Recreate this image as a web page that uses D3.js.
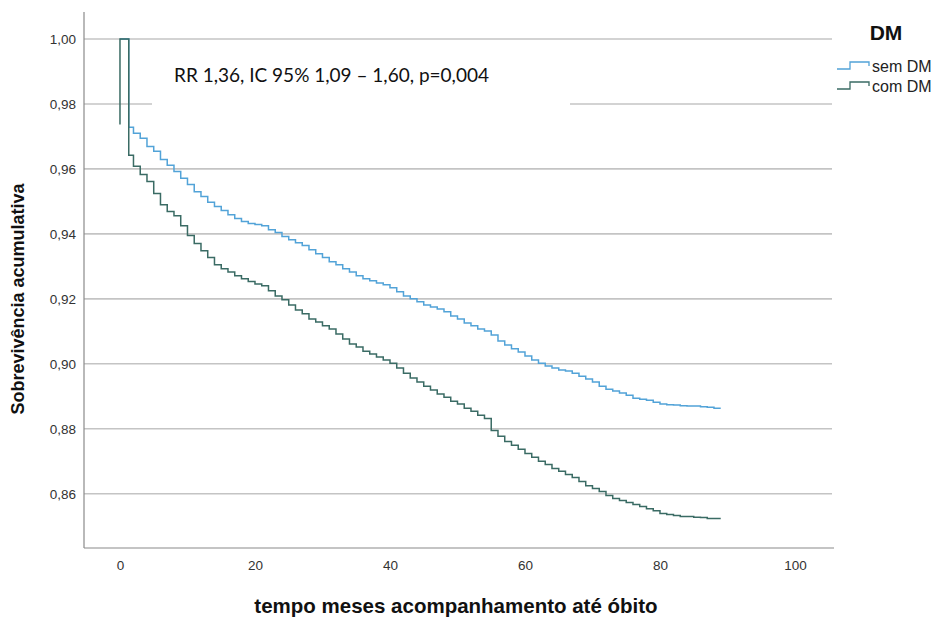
<!DOCTYPE html>
<html><head><meta charset="utf-8">
<script src="https://cdn.jsdelivr.net/npm/d3@7"></script>
<style>body{margin:0;background:#fff;}svg{display:block;}</style>
</head><body>
<svg id="c" width="940" height="618"></svg>
<script>
const times = [0, 1.3].concat(d3.range(2, 90));
const semDM = [1.0,
 .9728,.9710,.9694,.9669,.9654,.9629,.9611,.9592,.9571,.9552,
 .9530,.9515,.9497,.9484,.9472,.9459,.9447,.9438,.9432,.9429,
 .9425,.9413,.9404,.9392,.9382,.9373,.9364,.9351,.9339,.9327,
 .9314,.9305,.9293,.9283,.9271,.9262,.9256,.9249,.9243,.9234,
 .9222,.9209,.9200,.9191,.9181,.9175,.9169,.9160,.9147,.9138,
 .9126,.9117,.9107,.9101,.9089,.9070,.9058,.9046,.9036,.9024,
 .9012,.9002,.8993,.8987,.8981,.8978,.8971,.8962,.8953,.8944,
 .8931,.8922,.8916,.8910,.8903,.8894,.8891,.8888,.8882,.8876,
 .8874,.8873,.8871,.8870,.8870,.8868,.8866,.8863,.8863];
const comDM = [1.0,
 .9642,.9608,.9583,.9561,.9524,.9490,.9469,.9456,.9425,.9395,
 .9370,.9348,.9327,.9305,.9293,.9283,.9271,.9262,.9253,.9246,
 .9240,.9225,.9209,.9197,.9181,.9166,.9154,.9138,.9129,.9117,
 .9107,.9092,.9076,.9061,.9052,.9039,.9030,.9021,.9012,.9002,
 .8987,.8971,.8956,.8944,.8931,.8919,.8907,.8897,.8885,.8876,
 .8863,.8854,.8842,.8832,.8795,.8777,.8761,.8749,.8737,.8724,
 .8712,.8700,.8690,.8678,.8669,.8659,.8650,.8638,.8625,.8616,
 .8607,.8595,.8585,.8579,.8573,.8567,.8561,.8554,.8548,.8539,
 .8536,.8533,.8530,.8530,.8528,.8527,.8524,.8524,.8524];
const comDMStart = 0.9737;
const xTicks = [0, 20, 40, 60, 80, 100];
const yTicks = [1.00, 0.98, 0.96, 0.94, 0.92, 0.90, 0.88, 0.86];
const seriesNames = ["sem DM", "com DM"];
const seriesColors = ["#52a3d8", "#3a6b64"];
const annotation = "RR 1,36, IC 95% 1,09 \u2013 1,60, p=0,004";

const svg = d3.select("#c");
const x = d3.scaleLinear().domain([-5.33, 105.78]).range([84, 834]);
const y = d3.scaleLinear().domain([0.8433, 1.0083]).range([548, 12]);
const fmt = v => d3.format(".2f")(v).replace(".", ",");
const FONT = "Liberation Sans, Arial, sans-serif";

// gridlines
svg.append("g").selectAll("line").data(yTicks).join("line")
  .attr("x1", 84).attr("x2", 832)
  .attr("y1", d => y(d)).attr("y2", d => y(d))
  .attr("stroke", "#c4c4c4").attr("stroke-width", 1.6);

// y axis
const gy = svg.append("g").attr("transform", "translate(84,0)")
  .call(d3.axisLeft(y).tickValues(yTicks).tickFormat(fmt).tickSize(0).tickPadding(8));
gy.select(".domain").remove();
gy.selectAll("text").attr("font-family", FONT).attr("font-size", 13.5).attr("fill", "#333");
// x axis
const gx = svg.append("g").attr("transform", "translate(0,548)")
  .call(d3.axisBottom(x).tickValues(xTicks).tickFormat(d3.format("d")).tickSize(0).tickPadding(12));
gx.select(".domain").remove();
gx.selectAll("text").attr("font-family", FONT).attr("font-size", 13.5).attr("fill", "#333");

svg.append("line").attr("x1", 84).attr("x2", 84).attr("y1", 12).attr("y2", 548)
  .attr("stroke", "#8a8a8a").attr("stroke-width", 1.2);
svg.append("line").attr("x1", 84).attr("x2", 834).attr("y1", 548).attr("y2", 548)
  .attr("stroke", "#8a8a8a").attr("stroke-width", 1.2);

// annotation box
svg.append("rect").attr("x", 152).attr("y", 50).attr("width", 418).attr("height", 60).attr("fill", "#fff");
svg.append("text").attr("x", 174).attr("y", 82)
  .attr("font-family", "Lato, Open Sans, sans-serif").attr("font-size", 19).attr("fill", "#111")
  .text(annotation);

// curves
const line = d3.line().x(d => x(d[0])).y(d => y(d[1])).curve(d3.curveStepAfter);
const semPts = times.map((t, i) => [t, semDM[i]]);
const comPts = [[0, comDMStart]].concat(times.map((t, i) => [t, comDM[i]]));
svg.append("path").attr("d", line(semPts)).attr("fill", "none")
  .attr("stroke", seriesColors[0]).attr("stroke-width", 1.5);
svg.append("path").attr("d", d3.line().x(d => x(d[0])).y(d => y(d[1]))(comPts.slice(0, 2)) + line(comPts.slice(1)).replace("M", "L"))
  .attr("fill", "none").attr("stroke", seriesColors[1]).attr("stroke-width", 1.5);

// axis titles
svg.append("text").attr("transform", "translate(24,299) rotate(-90)").attr("text-anchor", "middle")
  .attr("font-family", FONT).attr("font-weight", "bold")
  .attr("font-size", 18).attr("fill", "#111").text("Sobrevivência acumulativa");
svg.append("text").attr("x", 456).attr("y", 613).attr("text-anchor", "middle")
  .attr("font-family", FONT).attr("font-weight", "bold")
  .attr("font-size", 20.5).attr("fill", "#111").text("tempo meses acompanhamento até óbito");

// legend
svg.append("text").attr("x", 886).attr("y", 40).attr("text-anchor", "middle")
  .attr("font-family", FONT).attr("font-weight", "bold")
  .attr("font-size", 21).attr("fill", "#111").text("DM");
const lg = svg.append("g").selectAll("g").data(seriesNames).join("g")
  .attr("transform", (d, i) => `translate(0,${i * 20})`);
lg.append("path").attr("d", "M837,69H850V62H869V66").attr("fill", "none")
  .attr("stroke", (d, i) => seriesColors[i]).attr("stroke-width", 1.3);
lg.append("text").attr("x", 872).attr("y", 72)
  .attr("font-family", FONT).attr("font-size", 16).attr("fill", "#222")
  .text(d => d);
</script>
</body></html>
